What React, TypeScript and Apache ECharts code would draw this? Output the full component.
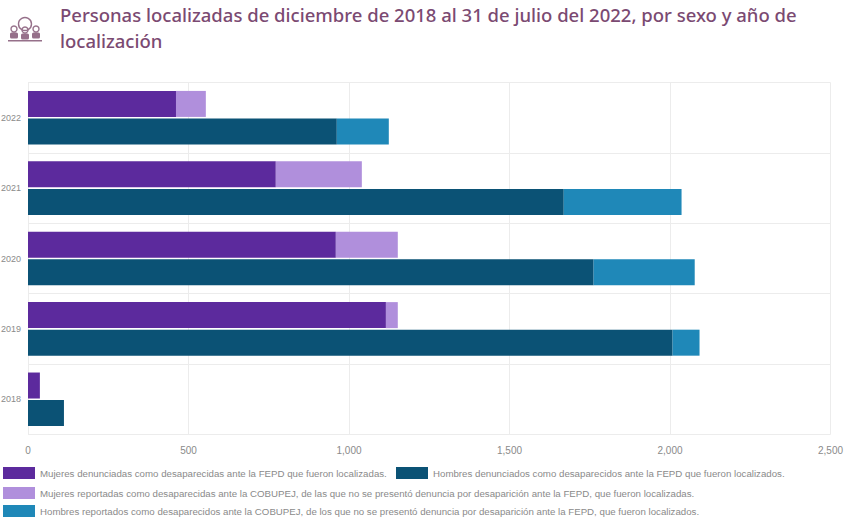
import React, { useEffect, useRef } from "react";
import * as echarts from "echarts";

const titleText = "Personas localizadas de diciembre de 2018 al 31 de julio del 2022, por sexo y año de\nlocalización";
const years = ["2018", "2019", "2020", "2021", "2022"];
const mujeresFepd = [37, 1115, 959, 772, 461];
const mujeresCobupej = [0, 37, 193, 268, 93];
const hombresFepd = [112, 2008, 1762, 1669, 962];
const hombresCobupej = [0, 84, 315, 367, 162];
const names = [
  "Mujeres denunciadas como desaparecidas ante la FEPD que fueron localizadas.",
  "Hombres denunciados como desaparecidos ante la FEPD que fueron localizados.",
  "Mujeres reportadas como desaparecidas ante la COBUPEJ, de las que no se presentó denuncia por desaparición ante la FEPD, que fueron localizadas.",
  "Hombres reportados como desaparecidos ante la COBUPEJ, de los que no se presentó denuncia por desaparición ante la FEPD, que fueron localizados.",
];
const colors = ["#5c2a9d", "#0b5275", "#b08fdc", "#1f88b8"];

export default function App() {
  const ref = useRef<HTMLDivElement>(null);
  useEffect(() => {
    const chart = echarts.init(ref.current!, null, { renderer: "svg" });
    const icon = "#96708a";
    const person = (cx: number, cy: number) => [
      { type: "circle", shape: { cx, cy, r: 3 }, style: { fill: "none", stroke: icon, lineWidth: 1.4 } },
      { type: "rect", shape: { x: cx - 4, y: cy + 3.5, width: 8, height: 6, r: 1.5 }, style: { fill: icon } },
    ];
    const legendPos = [
      { left: 3, top: 467 },
      { left: 396, top: 467 },
      { left: 3, top: 487 },
      { left: 3, top: 505 },
    ];
    const data = [mujeresFepd, hombresFepd, mujeresCobupej, hombresCobupej];
    chart.setOption({
      animation: false,
      backgroundColor: "#ffffff",
      title: {
        text: titleText,
        left: 60,
        top: 1,
        padding: 0,
        textStyle: { fontFamily: "Noto Sans", fontSize: 18.5, fontWeight: 500, color: "#7b4a72", lineHeight: 26 },
      },
      legend: names.map((n, i) => ({
        data: [n],
        ...legendPos[i],
        icon: "rect",
        itemWidth: 32,
        itemHeight: 12,
        itemGap: 0,
        padding: 0,
        selectedMode: false,
        textStyle: { fontFamily: "Liberation Sans", fontSize: 9.7, color: "#8a8a8a" },
      })),
      grid: { left: 28, right: 16.5, top: 82.5, bottom: 84.5, containLabel: false, outerBoundsMode: "none" },
      xAxis: {
        type: "value",
        min: 0,
        max: 2500,
        interval: 500,
        axisLine: { show: false },
        axisTick: { show: false },
        axisLabel: {
          fontFamily: "Liberation Sans",
          fontSize: 10,
          color: "#8a8a8a",
          margin: 11,
          hideOverlap: false,
          formatter: (v: number) => v.toLocaleString("en-US"),
        },
        splitLine: { lineStyle: { color: "#ececec" } },
      },
      yAxis: {
        type: "category",
        data: years,
        axisLine: { show: false },
        axisTick: { show: false },
        axisLabel: { fontFamily: "Liberation Sans", fontSize: 9, color: "#8a8a8a", margin: 7 },
        splitLine: { show: true, lineStyle: { color: "#ececec" } },
      },
      series: names.map((n, i) => ({
        type: "bar",
        name: n,
        stack: i % 2 === 0 ? "m" : "h",
        data: data[i],
        barWidth: 26,
        barGap: "6%",
        itemStyle: { color: colors[i] },
      })),
      graphic: [
        { type: "circle", shape: { cx: 25, cy: 24, r: 6.5 }, style: { stroke: icon, fill: "none", lineWidth: 1.4 } },
        ...person(14, 29),
        ...person(25, 30),
        ...person(36, 29),
        { type: "rect", shape: { x: 8, y: 40, width: 34, height: 1.5 }, style: { fill: icon } },
      ],
    });
    return () => chart.dispose();
  }, []);
  return <div ref={ref} style={{ position: "fixed", left: 0, top: 0, width: 847, height: 519 }} />;
}
